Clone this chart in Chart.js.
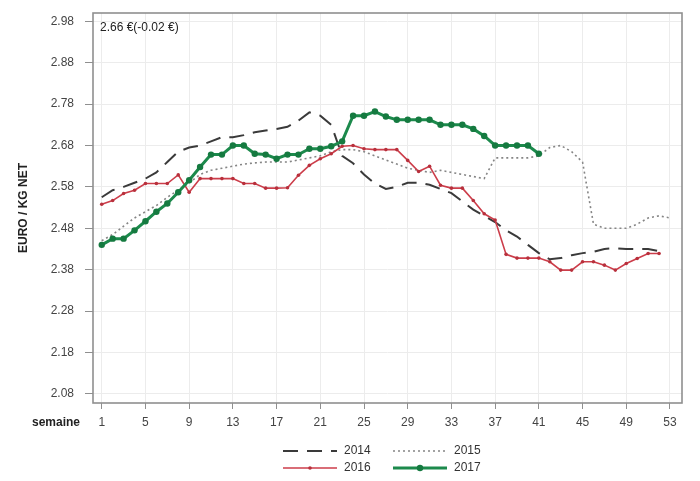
<!DOCTYPE html>
<html>
<head>
<meta charset="utf-8">
<script src="https://cdn.jsdelivr.net/npm/chart.js@4/dist/chart.umd.min.js"></script>
<style>
html,body{margin:0;padding:0;background:#fff;}
#wrap{width:700px;height:481px;position:relative;}
</style>
</head>
<body>
<div id="wrap"><canvas id="c" width="700" height="481"></canvas></div>
<script>
// ---- data ----
const weeks52 = [1,2,3,4,5,6,7,8,9,10,11,12,13,14,15,16,17,18,19,20,21,22,23,24,25,26,27,28,29,30,31,32,33,34,35,36,37,38,39,40,41,42,43,44,45,46,47,48,49,50,51,52];
const weeks53 = weeks52.concat([53]);
const weeks41 = weeks52.slice(0, 41);

const values2014 = [2.555,2.572,2.58,2.59,2.60,2.615,2.64,2.665,2.675,2.68,
  2.69,2.70,2.70,2.705,2.712,2.716,2.72,2.725,2.74,2.76,
  2.752,2.73,2.655,2.637,2.61,2.588,2.575,2.58,2.59,2.59,
  2.585,2.575,2.565,2.545,2.525,2.51,2.495,2.475,2.46,2.44,
  2.42,2.405,2.408,2.415,2.42,2.423,2.43,2.432,2.43,2.43,2.43,2.425];
const values2015 = [2.45,2.465,2.485,2.505,2.52,2.535,2.555,2.572,2.59,2.61,
  2.62,2.625,2.63,2.635,2.638,2.64,2.64,2.64,2.645,2.65,
  2.655,2.665,2.67,2.67,2.665,2.655,2.645,2.635,2.625,2.62,
  2.615,2.62,2.615,2.61,2.605,2.60,2.65,2.65,2.65,2.65,
  2.655,2.675,2.68,2.665,2.64,2.49,2.48,2.48,2.48,2.49,2.505,2.51,2.505];
const values2016 = [2.538,2.547,2.564,2.572,2.588,2.588,2.588,2.609,2.567,2.60,
  2.60,2.60,2.60,2.588,2.588,2.577,2.577,2.578,2.608,2.632,
  2.648,2.66,2.678,2.68,2.672,2.67,2.67,2.67,2.644,2.617,
  2.63,2.584,2.577,2.577,2.547,2.515,2.50,2.417,2.408,2.408,
  2.408,2.399,2.379,2.379,2.399,2.399,2.391,2.379,2.395,2.407,2.419,2.419];
const values2017 = [2.44,2.455,2.455,2.475,2.497,2.52,2.54,2.567,2.596,2.628,
  2.658,2.658,2.68,2.68,2.66,2.658,2.648,2.658,2.658,2.672,
  2.672,2.678,2.69,2.752,2.752,2.762,2.75,2.742,2.742,2.742,
  2.742,2.73,2.73,2.73,2.72,2.703,2.68,2.68,2.68,2.68,2.66];

const xTickValues = [1,5,9,13,17,21,25,29,33,37,41,45,49,53];
const yTickValues = [2.08,2.18,2.28,2.38,2.48,2.58,2.68,2.78,2.88,2.98];
const seriesLabels = ['2014','2015','2016','2017'];
const annotationText = '2.66 €(-0.02 €)';
const xAxisTitle = 'semaine';
const yAxisTitle = 'EURO / KG NET';

const FONT = "'Liberation Sans', Arial, sans-serif";

function pts(xs, ys){ return ys.map((v,i)=>({x:xs[i], y:v})); }

const framePlugin = {
  id:'frame',
  afterDraw(chart){
    const {ctx, chartArea:a} = chart;
    ctx.save();
    ctx.strokeStyle = '#8f8f8f';
    ctx.lineWidth = 1.6;
    ctx.strokeRect(a.left, a.top, a.right-a.left, a.bottom-a.top);
    // annotation
    ctx.fillStyle = '#222';
    ctx.font = '12px ' + FONT;
    ctx.textAlign = 'left';
    ctx.textBaseline = 'middle';
    ctx.fillText(annotationText, a.left + 7, a.top + 15);
    // x-axis title
    ctx.font = 'bold 12px ' + FONT;
    ctx.textAlign = 'right';
    ctx.fillStyle = '#222';
    ctx.fillText(xAxisTitle, a.left - 13, a.bottom + 20);
    // legend
    const order = ['2014','2015','2016','2017'];
    const cx = chart.width/2;
    const colX = [cx - 67, cx + 43];
    const rowY = [a.bottom + 48, a.bottom + 65];
    order.forEach((lab, k)=>{
      const ds = chart.data.datasets.find(d=>d.label===lab);
      const x0 = colX[k%2], y0 = rowY[Math.floor(k/2)];
      ctx.save();
      ctx.strokeStyle = ds.borderColor;
      ctx.lineWidth = ds.borderWidth;
      ctx.setLineDash(ds.borderDash || []);
      ctx.beginPath(); ctx.moveTo(x0, y0); ctx.lineTo(x0+54, y0); ctx.stroke();
      ctx.setLineDash([]);
      if (ds.pointRadius > 0){
        ctx.fillStyle = ds.pointBackgroundColor;
        ctx.beginPath(); ctx.arc(x0+27, y0, ds.pointRadius, 0, Math.PI*2); ctx.fill();
      }
      ctx.fillStyle = '#333';
      ctx.font = '12px ' + FONT;
      ctx.textAlign = 'left';
      ctx.fillText(lab, x0 + 61, y0);
      ctx.restore();
    });
    ctx.restore();
  }
};

new Chart(document.getElementById('c'), {
  type:'line',
  data:{
    datasets:[
      {label:seriesLabels[0], data:pts(weeks52, values2014), borderColor:'#3a3a3a', borderWidth:2, borderDash:[15,9], pointRadius:0, order:2, tension:0},
      {label:seriesLabels[1], data:pts(weeks53, values2015), borderColor:'#858585', borderWidth:1.6, borderDash:[2,3], pointRadius:0, order:3, tension:0},
      {label:seriesLabels[2], data:pts(weeks52, values2016), borderColor:'#cc3d4a', borderWidth:1.6, pointRadius:1.8, pointBackgroundColor:'#b8303c', pointBorderWidth:0, order:1, tension:0},
      {label:seriesLabels[3], data:pts(weeks41, values2017), borderColor:'#1c8a4c', borderWidth:3, pointRadius:3.2, pointBackgroundColor:'#157a40', pointBorderWidth:0, order:0, tension:0}
    ]
  },
  options:{
    responsive:false,
    animation:false,
    layout:{padding:{left:14, right:18, top:13, bottom:0}},
    plugins:{legend:{display:false}, tooltip:{enabled:false}},
    scales:{
      x:{
        type:'linear', min:0.2, max:54.1,
        afterBuildTicks(s){ s.ticks = xTickValues.map(v=>({value:v})); },
        afterFit(s){ s.height = 78; s.paddingLeft = 0; s.paddingRight = 0; },
        grid:{color:'#ececec', lineWidth:1, tickColor:'#8f8f8f', tickLength:6, drawOnChartArea:true},
        border:{display:false},
        ticks:{color:'#444', font:{family:FONT, size:12}, padding:6, maxRotation:0, autoSkip:false, callback:(v)=>String(v)}
      },
      y:{
        min:2.058, max:3.0,
        afterBuildTicks(s){ s.ticks = yTickValues.map(v=>({value:v})); },
        afterFit(s){ s.width = 79; s.paddingTop = 0; s.paddingBottom = 0; },
        grid:{color:'#ececec', lineWidth:1, tickColor:'#8f8f8f', tickLength:8},
        border:{display:false},
        ticks:{color:'#444', font:{family:FONT, size:12}, padding:11, autoSkip:false, callback:(v)=>Number(v).toFixed(2)},
        title:{display:true, text:yAxisTitle, color:'#222', font:{family:FONT, size:12, weight:'bold'}, padding:{top:2,bottom:2}}
      }
    }
  },
  plugins:[framePlugin]
});
</script>
</body>
</html>
